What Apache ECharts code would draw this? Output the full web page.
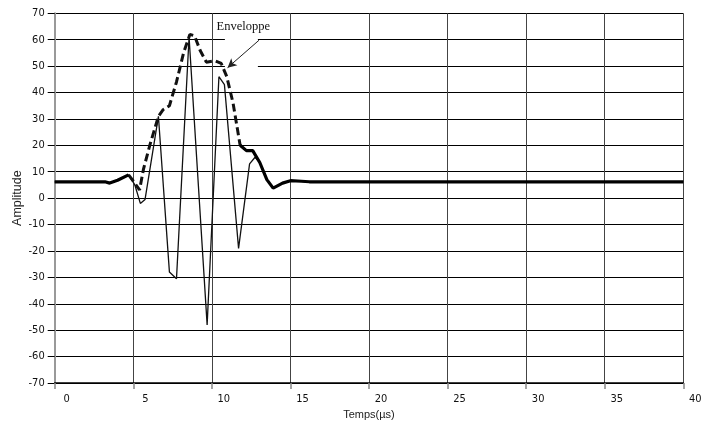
<!DOCTYPE html>
<html><head><meta charset="utf-8">
<script src="https://cdn.jsdelivr.net/npm/echarts@6/dist/echarts.min.js"></script>
<style>html,body{margin:0;padding:0;background:#fff}#c{width:712px;height:423px}</style>
</head><body><div id="c"></div>
<script>
// ---- data ----
const signalT = [0, 3.2, 3.5, 4.0, 4.7, 5.1, 5.45, 5.75, 6.6, 7.3, 7.75, 8.55, 9.7, 10.45, 10.8, 11.7, 12.4, 12.75, 13.05, 13.5, 13.9, 14.5, 15.0, 15.7, 16.2, 40];
const signalV = [6.2, 6.2, 5.7, 6.8, 8.8, 5.0, -2.0, -0.5, 31, -28, -30.5, 61, -48, 46, 43, -19, 13, 15.5, 13.5, 7, 3.8, 5.7, 6.6, 6.4, 6.2, 6.2];
const envT = [0, 3.2, 3.5, 4.0, 4.7, 5.0, 5.4, 5.65, 6.05, 6.3, 6.6, 6.9, 7.3, 7.75, 8.2, 8.6, 8.9, 9.25, 9.65, 10.2, 10.6, 10.95, 11.35, 11.8, 12.2, 12.6, 13.05, 13.5, 13.9, 14.5, 15.0, 15.7, 16.2, 40];
const envV = [6.2, 6.2, 5.7, 6.8, 8.8, 6.5, 3.1, 11, 20, 25, 31, 33.5, 35, 44, 55, 62, 61.5, 56, 51.5, 52, 51, 46, 36, 20, 18, 18, 13.5, 7, 3.8, 5.7, 6.6, 6.4, 6.2, 6.2];
const dashedRange = [4.7, 11.8];
const xTicks = [0, 40, 5];   // min, max, step
const yTicks = [-70, 70, 10];
const xTitle = 'Temps(µs)';
const yTitle = 'Amplitude';
const noteText = 'Enveloppe';
const noteAt = [12.0, 64.8];
const arrowFrom = [13.0, 59.8];
const arrowTo = [11.0, 49.4];
const boxX = [10.83, 12.93];
const boxY = [48.9, 62.5];

const chart = echarts.init(document.getElementById('c'), null, {renderer: 'canvas'});
const sigData = signalT.map((t, i) => [t, signalV[i]]);
const envDashed = envT.map((t, i) => (t >= dashedRange[0] && t <= dashedRange[1]) ? [t, envV[i]] : [t, '-']);
const envSolid = envT.map((t, i) => (t <= dashedRange[0] || t >= dashedRange[1]) ? [t, envV[i]] : [t, '-']);
const narrow = '"Liberation Sans Narrow", "DejaVu Sans Condensed", sans-serif';

chart.setOption({
  animation: false,
  backgroundColor: '#fff',
  grid: {left: 54.7, right: 28.7, top: 13.3, bottom: 40, containLabel: false, outerBoundsMode: 'none'},
  xAxis: {
    type: 'value', min: xTicks[0], max: xTicks[1], interval: xTicks[2],
    name: xTitle, nameLocation: 'middle', nameGap: 26, nameMoveOverlap: false,
    nameTextStyle: {fontFamily: '"Liberation Sans", sans-serif', fontSize: 11, color: '#222'},
    axisLine: {show: true, onZero: false, lineStyle: {color: '#000', width: 1.5}},
    axisTick: {show: true, length: 6, lineStyle: {color: '#888', width: 1.5}},
    axisLabel: {fontFamily: narrow, fontSize: 11, color: '#111', margin: 11, align: 'center', padding: [0, 0, 0, 24]},
    splitLine: {show: true, lineStyle: {color: '#444', width: 1}}
  },
  yAxis: {
    type: 'value', min: yTicks[0], max: yTicks[1], interval: yTicks[2],
    name: yTitle, nameLocation: 'middle', nameGap: 31, nameRotate: 90, nameMoveOverlap: false,
    nameTextStyle: {fontFamily: '"Liberation Sans", sans-serif', fontSize: 12.5, color: '#222'},
    axisLine: {show: true, onZero: false, lineStyle: {color: '#999', width: 2}},
    axisTick: {show: true, length: 7, lineStyle: {color: '#000', width: 1}},
    axisLabel: {fontFamily: narrow, fontSize: 11, color: '#111', margin: 10},
    splitLine: {show: true, lineStyle: {color: '#000', width: 1}}
  },
  series: [
    {
      type: 'line', name: 'box', data: [], z: 1, silent: true,
      markArea: {silent: true, itemStyle: {color: '#fff', opacity: 1}, label: {show: false},
        data: [[{coord: [boxX[0], boxY[1]]}, {coord: [boxX[1], boxY[0]]}]]}
    },
    {
      type: 'line', name: 'signal', data: sigData, z: 3, symbol: 'none',
      lineStyle: {color: '#111', width: 1.3}
    },
    {
      type: 'line', name: 'envelopeDashed', data: envDashed, z: 4, symbol: 'none',
      lineStyle: {color: '#111', width: 3, type: [8, 4]}
    },
    {
      type: 'line', name: 'envelopeSolid', data: envSolid, z: 4, symbol: 'none',
      lineStyle: {color: '#000', width: 3.2}
    },
    {
      type: 'line', name: 'arrow', data: [], z: 5, silent: true,
      markLine: {silent: true, symbol: ['none', 'arrow'], symbolSize: [7, 9],
        label: {show: false}, lineStyle: {color: '#222', width: 1, type: 'solid'},
        data: [[{coord: arrowFrom}, {coord: arrowTo}]]}
    }
  ]
});

const p = chart.convertToPixel({gridIndex: 0}, noteAt);
chart.setOption({
  graphic: [{
    type: 'text', x: p[0], y: p[1], z: 10,
    style: {text: noteText, fontFamily: '"Liberation Serif", serif', fontSize: 12.5, fill: '#111',
      textAlign: 'center', textVerticalAlign: 'middle'}
  }]
});
</script>
</body></html>
